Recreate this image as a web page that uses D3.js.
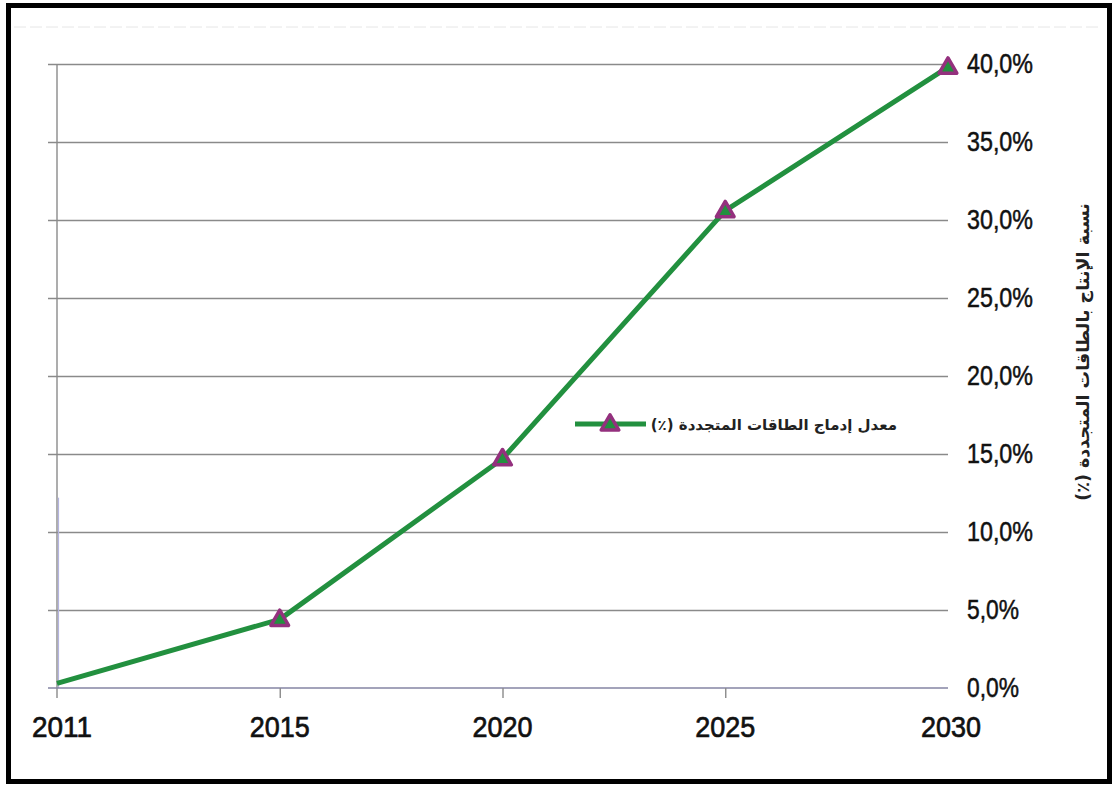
<!DOCTYPE html>
<html>
<head>
<meta charset="utf-8">
<script src="https://cdn.jsdelivr.net/npm/d3@7"></script>
<style>
  body { margin: 0; background: #fff; }
  svg { display: block; }
  .rtl { direction: rtl; unicode-bidi: embed; }
</style>
</head>
<body>
<svg id="chart" width="1114" height="785"></svg>
<script>
// data
const years = ["2011", "2015", "2020", "2025", "2030"];
const share = [0.3, 4.4, 14.7, 30.6, 39.8];
const yTicks = [0, 5, 10, 15, 20, 25, 30, 35, 40];

const seriesName = "معدل إدماج الطاقات المتجددة (٪)";
const yTitle = "نسبة الإنتاج بالطاقات المتجددة (٪)";

const green = "#22903f",
	purple = "#94307e",
	grid = "#8a8a8a";

var svg = d3.select("#chart");

var margin = { top: 64, left: 57 },
	width = 948 - 57,
	height = 688 - 64;

// outer frame
svg.append("rect")
	.attr("x", 8.5).attr("y", 5.5)
	.attr("width", 1101).attr("height", 776)
	.attr("fill", "none")
	.attr("stroke", "#000")
	.attr("stroke-width", 5);

// faint dotted line near top
svg.append("line")
	.attr("x1", 14).attr("x2", 1100)
	.attr("y1", 27).attr("y2", 27)
	.attr("stroke", "#e6e6e6")
	.attr("stroke-dasharray", "12,4");

var g = svg.append("g")
	.attr("transform", `translate(${margin.left}, ${margin.top})`);

var x = d3.scalePoint().domain(years).range([0, width]),
	y = d3.scaleLinear().domain([0, 40]).range([height, 0]);

// horizontal grid with small tick stubs to the left
var yGrid = d3.axisLeft(y).tickValues(yTicks.slice(1)).tickSize(-width).tickFormat("");
g.append("g")
	.attr("class", "grid")
	.call(yGrid)
	.call(s => s.select(".domain").remove())
	.call(s => s.selectAll(".tick line")
		.attr("x1", -9)
		.attr("stroke", grid)
		.attr("stroke-width", 1.4));

// left axis line
g.append("line")
	.attr("x1", 0).attr("x2", 0)
	.attr("y1", 0).attr("y2", height + 10)
	.attr("stroke", grid)
	.attr("stroke-width", 1.4);
g.append("line")
	.attr("x1", 1.5).attr("x2", 1.5)
	.attr("y1", y(12.2)).attr("y2", height)
	.attr("stroke", "#b4b4e0")
	.attr("stroke-width", 1.2);

// bottom axis
var xAxis = d3.axisBottom(x).tickSize(10).tickFormat("");
g.append("g")
	.attr("class", "xAxis")
	.attr("transform", `translate(0, ${height})`)
	.call(xAxis)
	.call(s => s.select(".domain")
		.attr("d", `M-9,0H${width}`)
		.attr("stroke", "#8585a3")
		.attr("stroke-width", 1.6))
	.call(s => s.selectAll(".tick line")
		.attr("stroke", grid)
		.attr("stroke-width", 1.4)
		.attr("display", (d, i) => i == 0 || i == years.length - 1 ? "none" : null));

// x labels
g.append("g")
	.selectAll("text")
	.data(years)
	.enter().append("text")
	.attr("x", (d, i) => x(d) + (i == 0 ? 5 : i == years.length - 1 ? 3 : 0))
	.attr("y", height + 49)
	.attr("text-anchor", "middle")
	.attr("font-family", "Liberation Sans, Arial, sans-serif")
	.attr("font-size", "30px")
	.attr("textLength", 60)
	.attr("lengthAdjust", "spacingAndGlyphs")
	.attr("fill", "#111")
	.attr("stroke", "#111")
	.attr("stroke-width", 0.7)
	.text(d => d);

// y labels on the right
g.append("g")
	.selectAll("text")
	.data(yTicks)
	.enter().append("text")
	.attr("x", width + 19)
	.attr("y", d => y(d) + 9)
	.attr("font-family", "Liberation Sans, Arial, sans-serif")
	.attr("font-size", "27px")
	.attr("textLength", d => d < 10 ? 52 : 66)
	.attr("lengthAdjust", "spacingAndGlyphs")
	.attr("fill", "#111")
	.attr("stroke", "#111")
	.attr("stroke-width", 0.5)
	.text(d => d.toFixed(1).replace(".", ",") + "%");

// y title, rotated (right-to-left text)
svg.append("text")
	.attr("class", "rtl")
	.attr("direction", "rtl")
	.attr("transform", "translate(1089, 352) rotate(-90)")
	.attr("text-anchor", "middle")
	.attr("font-family", "DejaVu Sans, sans-serif")
	.attr("font-weight", "bold")
	.attr("font-size", "17.5px")
	.attr("fill", "#222")
	.text(yTitle);

// line
var line = d3.line()
	.x((d, i) => x(years[i]))
	.y(d => y(d));

g.append("path")
	.datum(share)
	.attr("d", line)
	.attr("fill", "none")
	.attr("stroke", green)
	.attr("stroke-width", 5)
	.attr("stroke-linejoin", "round");

var tri = d3.symbol().type(d3.symbolTriangle).size(135);

g.selectAll(".marker")
	.data(share.slice(1))
	.enter().append("path")
	.attr("class", "marker")
	.attr("d", tri)
	.attr("transform", (d, i) => `translate(${x(years[i + 1])}, ${y(d) + 1})`)
	.attr("fill", green)
	.attr("stroke", purple)
	.attr("stroke-width", 3.5)
	.attr("stroke-linejoin", "round");

// legend
var legend = svg.append("g")
	.attr("transform", "translate(575, 424)");
legend.append("line")
	.attr("x1", 0).attr("x2", 71)
	.attr("stroke", green)
	.attr("stroke-width", 5);
legend.append("path")
	.attr("d", tri)
	.attr("transform", "translate(35, 1)")
	.attr("fill", green)
	.attr("stroke", purple)
	.attr("stroke-width", 3.5)
	.attr("stroke-linejoin", "round");
legend.append("text")
	.attr("class", "rtl")
	.attr("direction", "rtl")
	.attr("x", 322)
	.attr("y", 6)
	.attr("text-anchor", "start")
	.attr("font-family", "DejaVu Sans, sans-serif")
	.attr("font-weight", "bold")
	.attr("font-size", "15px")
	.attr("fill", "#222")
	.text(seriesName);
</script>
</body>
</html>
